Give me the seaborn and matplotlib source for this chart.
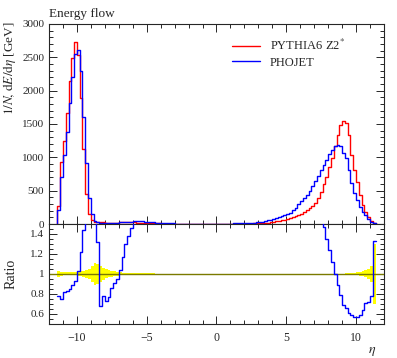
import matplotlib
matplotlib.use("Agg")
import matplotlib.pyplot as plt
from matplotlib.lines import Line2D
from matplotlib.ticker import MultipleLocator, FormatStrFormatter
import numpy as np
import pandas as pd
import seaborn as sns

sns.set_style("ticks")
plt.rcParams["font.family"] = ["Liberation Serif", "DejaVu Serif"]
plt.rcParams["mathtext.fontset"] = "stix"

# bin edges in eta (0.2 wide)
eta_lo, eta_hi, n_bins = -11.4, 11.4, 114
edges = np.linspace(eta_lo, eta_hi, n_bins + 1)

# PYTHIA6 Z2* energy flow per bin [GeV]
pythia = [
    270, 930, 1250, 1660, 2140, 2490, 2730, 2540, 1890, 1120,
    450, 150, 60, 30, 25, 25, 23, 22, 22, 22,
    22, 22, 23, 23, 23, 24, 24, 24,
    22, 20, 18, 16, 14, 12, 10, 9, 8, 7,
    6, 5, 5, 4, 4, 3, 3, 3, 3,
    3, 3, 3, 3, 3, 3, 3, 3, 3, 3,
    3, 3, 3, 3, 3, 3, 3, 3, 4, 4,
    5, 6, 7, 8, 10, 12, 15, 18, 22, 26,
    31, 38, 45, 54, 64, 75, 88, 100, 118, 135,
    155, 178, 205, 240, 275, 320, 390,
    480, 600, 710, 850, 990, 1165, 1335, 1480, 1545, 1510,
    1340, 1040, 810, 630, 440, 290, 180, 100, 45, 12,
]

# PHOJET energy flow per bin [GeV]
phojet = [
    210, 700, 1030, 1380, 1810, 2210, 2550, 2610, 2300, 1610,
    910, 385, 150, 50, 33, 17, 18, 16, 17, 19,
    20, 21, 24, 27, 30, 33, 35, 40,
    42, 42, 40, 36, 32, 28, 24, 20, 17, 14,
    12, 10, 9, 8, 7, 6, 6, 5, 5,
    5, 5, 5, 5, 5, 5, 5, 5, 5, 5,
    5, 5, 5, 6, 6, 7, 8, 9, 10, 11,
    12, 14, 17, 21, 26, 30, 36, 45, 55, 66,
    76, 88, 105, 118, 131, 150, 170, 206, 247, 297,
    340, 390, 440, 500, 570, 640, 718,
    810, 880, 960, 1050, 1110, 1165, 1188, 1170, 1066, 997,
    817, 614, 462, 359, 260, 186, 128, 72, 35, 16,
]

# relative MC stat. uncertainty of the reference (yellow band)
ref_err = [
    0.03, 0.02, 0.015, 0.015, 0.015, 0.015, 0.015, 0.02, 0.025, 0.03,
    0.04, 0.05, 0.08, 0.11, 0.1, 0.08, 0.06, 0.045, 0.035, 0.03,
    0.025, 0.02, 0.015, 0.012, 0.01, 0.01, 0.008, 0.008,
    0.006, 0.006, 0.006, 0.005, 0.005, 0.005, 0.005, 0.004, 0.004, 0.004,
    0.004, 0.004, 0.003, 0.003, 0.003, 0.003, 0.003, 0.003, 0.003,
    0.003, 0.003, 0.003, 0.003, 0.003, 0.003, 0.003, 0.003, 0.003, 0.003,
    0.003, 0.003, 0.003, 0.003, 0.003, 0.003, 0.003, 0.003, 0.003, 0.003,
    0.003, 0.003, 0.003, 0.003, 0.003, 0.003, 0.003, 0.003, 0.003, 0.003,
    0.003, 0.003, 0.003, 0.003, 0.003, 0.003, 0.003, 0.003, 0.003, 0.003,
    0.003, 0.003, 0.003, 0.003, 0.003, 0.003, 0.003,
    0.003, 0.003, 0.003, 0.003, 0.003, 0.003, 0.003, 0.003, 0.003, 0.005,
    0.008, 0.01, 0.012, 0.015, 0.02, 0.025, 0.035, 0.05, 0.08, 0.3,
]

labels = ["PYTHIA6 Z2$^{*}$", "PHOJET"]
colors = ["#ff0000", "#0000ff"]

pythia = np.array(pythia, dtype=float)
phojet = np.array(phojet, dtype=float)
ref_err = np.array(ref_err, dtype=float)
ratio = phojet / pythia


def step_frame(vals, name):
    # outline of a histogram: rise from 0 at the first edge, hold each bin, drop to 0
    x = np.concatenate([[edges[0]], edges, [edges[-1]]])
    y = np.concatenate([[0.0], vals, [vals[-1]], [0.0]])
    return pd.DataFrame({"eta": x, "flow": y, "gen": name})


df = pd.concat([step_frame(pythia, labels[0]), step_frame(phojet, labels[1])],
               ignore_index=True)

fig = plt.figure(figsize=(3.97, 3.58), dpi=100)
ax1 = fig.add_axes([0.1234, 0.3743, 0.8438, 0.5587])
ax2 = fig.add_axes([0.1234, 0.0950, 0.8438, 0.2793], sharex=ax1)

# main panel
sns.lineplot(data=df, x="eta", y="flow", hue="gen", hue_order=labels,
             palette=dict(zip(labels, colors)), drawstyle="steps-post",
             estimator=None, sort=False, linewidth=1.0, legend=False, ax=ax1)

ax1.set_xlim(-12, 12)
ax1.set_ylim(0, 3000)
ax1.set_xlabel("")
ax1.set_ylabel(r"$1/N\!,\,\mathrm{d}E/\mathrm{d}\eta$ [GeV]", loc="top", fontsize=9.5)
ax1.yaxis.set_label_coords(-0.093, 1.012)
ax1.yaxis.set_major_locator(MultipleLocator(500))
ax1.yaxis.set_minor_locator(MultipleLocator(100))
ax1.tick_params(labelbottom=False)
ax1.text(0.0, 1.02, "Energy flow", transform=ax1.transAxes, fontsize=9.5,
         ha="left", va="bottom")

handles = [Line2D([], [], color=c, lw=1.0) for c in colors]
ax1.legend(handles, labels, loc="upper left", bbox_to_anchor=(0.53, 0.955),
           frameon=False, fontsize=9, handlelength=2.3, handletextpad=0.75,
           labelspacing=0.3, borderaxespad=0.0)

# ratio panel
err_ext = np.append(ref_err, ref_err[-1])
ax2.fill_between(edges, 1 - err_ext, 1 + err_ext,
                 step="post", color="#ffff00", lw=0, zorder=1)
ax2.axhline(1.0, color="#7a7a00", lw=1.0, zorder=2)
sns.lineplot(x=edges, y=np.append(ratio, ratio[-1]), drawstyle="steps-post",
             estimator=None, sort=False, color=colors[1], linewidth=1.0,
             ax=ax2, zorder=3)
ax2.set_ylim(0.5, 1.5)
ax2.yaxis.set_major_locator(MultipleLocator(0.2))
ax2.yaxis.set_minor_locator(MultipleLocator(0.05))
ax2.yaxis.set_major_formatter(FormatStrFormatter("%g"))
ax2.set_ylabel("Ratio", fontsize=10)
ax2.yaxis.set_label_coords(-0.095, 0.5)
ax2.set_xlabel(r"$\eta$", loc="right", fontsize=10)
ax2.xaxis.set_label_coords(0.978, -0.21)

for ax in (ax1, ax2):
    ax.xaxis.set_major_locator(MultipleLocator(5))
    ax.xaxis.set_minor_locator(MultipleLocator(1))
    ax.tick_params(which="both", direction="in", top=True, right=True,
                   labelsize=8.5, width=0.7)
    ax.tick_params(axis="y", labelsize=8)
    ax.tick_params(which="major", length=6)
    ax.tick_params(which="minor", length=3)
    for s in ax.spines.values():
        s.set_linewidth(0.8)
ax2.tick_params(axis="x", pad=6)

fig.savefig("out.png", dpi=100)
